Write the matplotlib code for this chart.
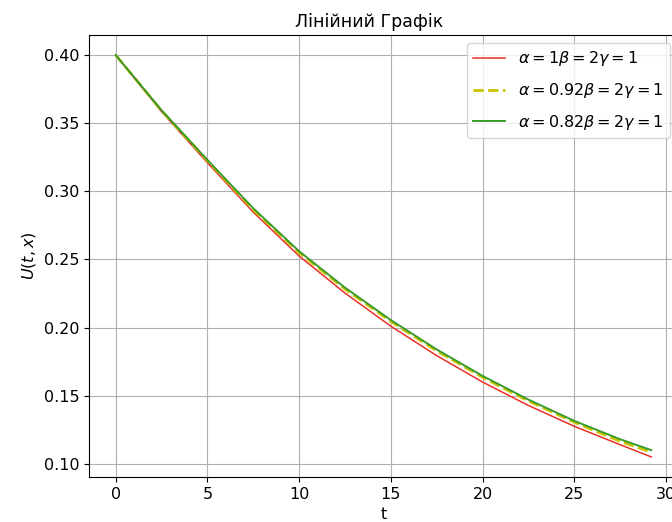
import numpy as np
import matplotlib.pyplot as plt

# values
t = [0, 2.5, 5, 7.5, 10, 12.5, 15, 17.5, 20, 22.5, 25, 27.5, 29.2]
u_a1 = [0.400, 0.3585, 0.321, 0.2847, 0.2525, 0.2253, 0.201, 0.1794, 0.160, 0.1428, 0.1275, 0.1140, 0.105]
u_a092 = [0.400, 0.3592, 0.3225, 0.2866, 0.255, 0.2283, 0.2045, 0.1829, 0.1635, 0.1461, 0.1305, 0.1165, 0.1085]
u_a082 = [0.400, 0.3595, 0.323, 0.2875, 0.256, 0.2293, 0.2055, 0.1839, 0.1645, 0.1471, 0.1315, 0.1180, 0.110]

labels = [r'$\alpha = 1 \beta = 2 \gamma = 1$',
          r'$\alpha = 0.92 \beta = 2 \gamma = 1$',
          r'$\alpha = 0.82 \beta = 2 \gamma = 1$']

fig = plt.figure(figsize=(6.72, 5.22), dpi=100)
ax = fig.add_axes([0.1324, 0.0862, 0.8765, 0.8467])

ax.plot(t, u_a1, color='#e8302a', lw=1.1, label=labels[0])
ax.plot(t, u_a092, color='#c8c400', lw=2, ls='--', label=labels[1])
ax.plot(t, u_a082, color='#3a9a2a', lw=1.4, label=labels[2])

# title sits a little left of the axes centre in the reference
ax.set_title('Лінійний Графік', fontsize=12.5, x=0.476)
ax.set_xlabel('t', fontsize=11.5)
ax.set_ylabel('$U(t, x)$', fontsize=11.5)
ax.tick_params(labelsize=11.5)
ax.grid(True)
ax.legend(loc='upper right', fontsize=11.5, labelspacing=0.8)

fig.savefig('out.png', dpi=100)
